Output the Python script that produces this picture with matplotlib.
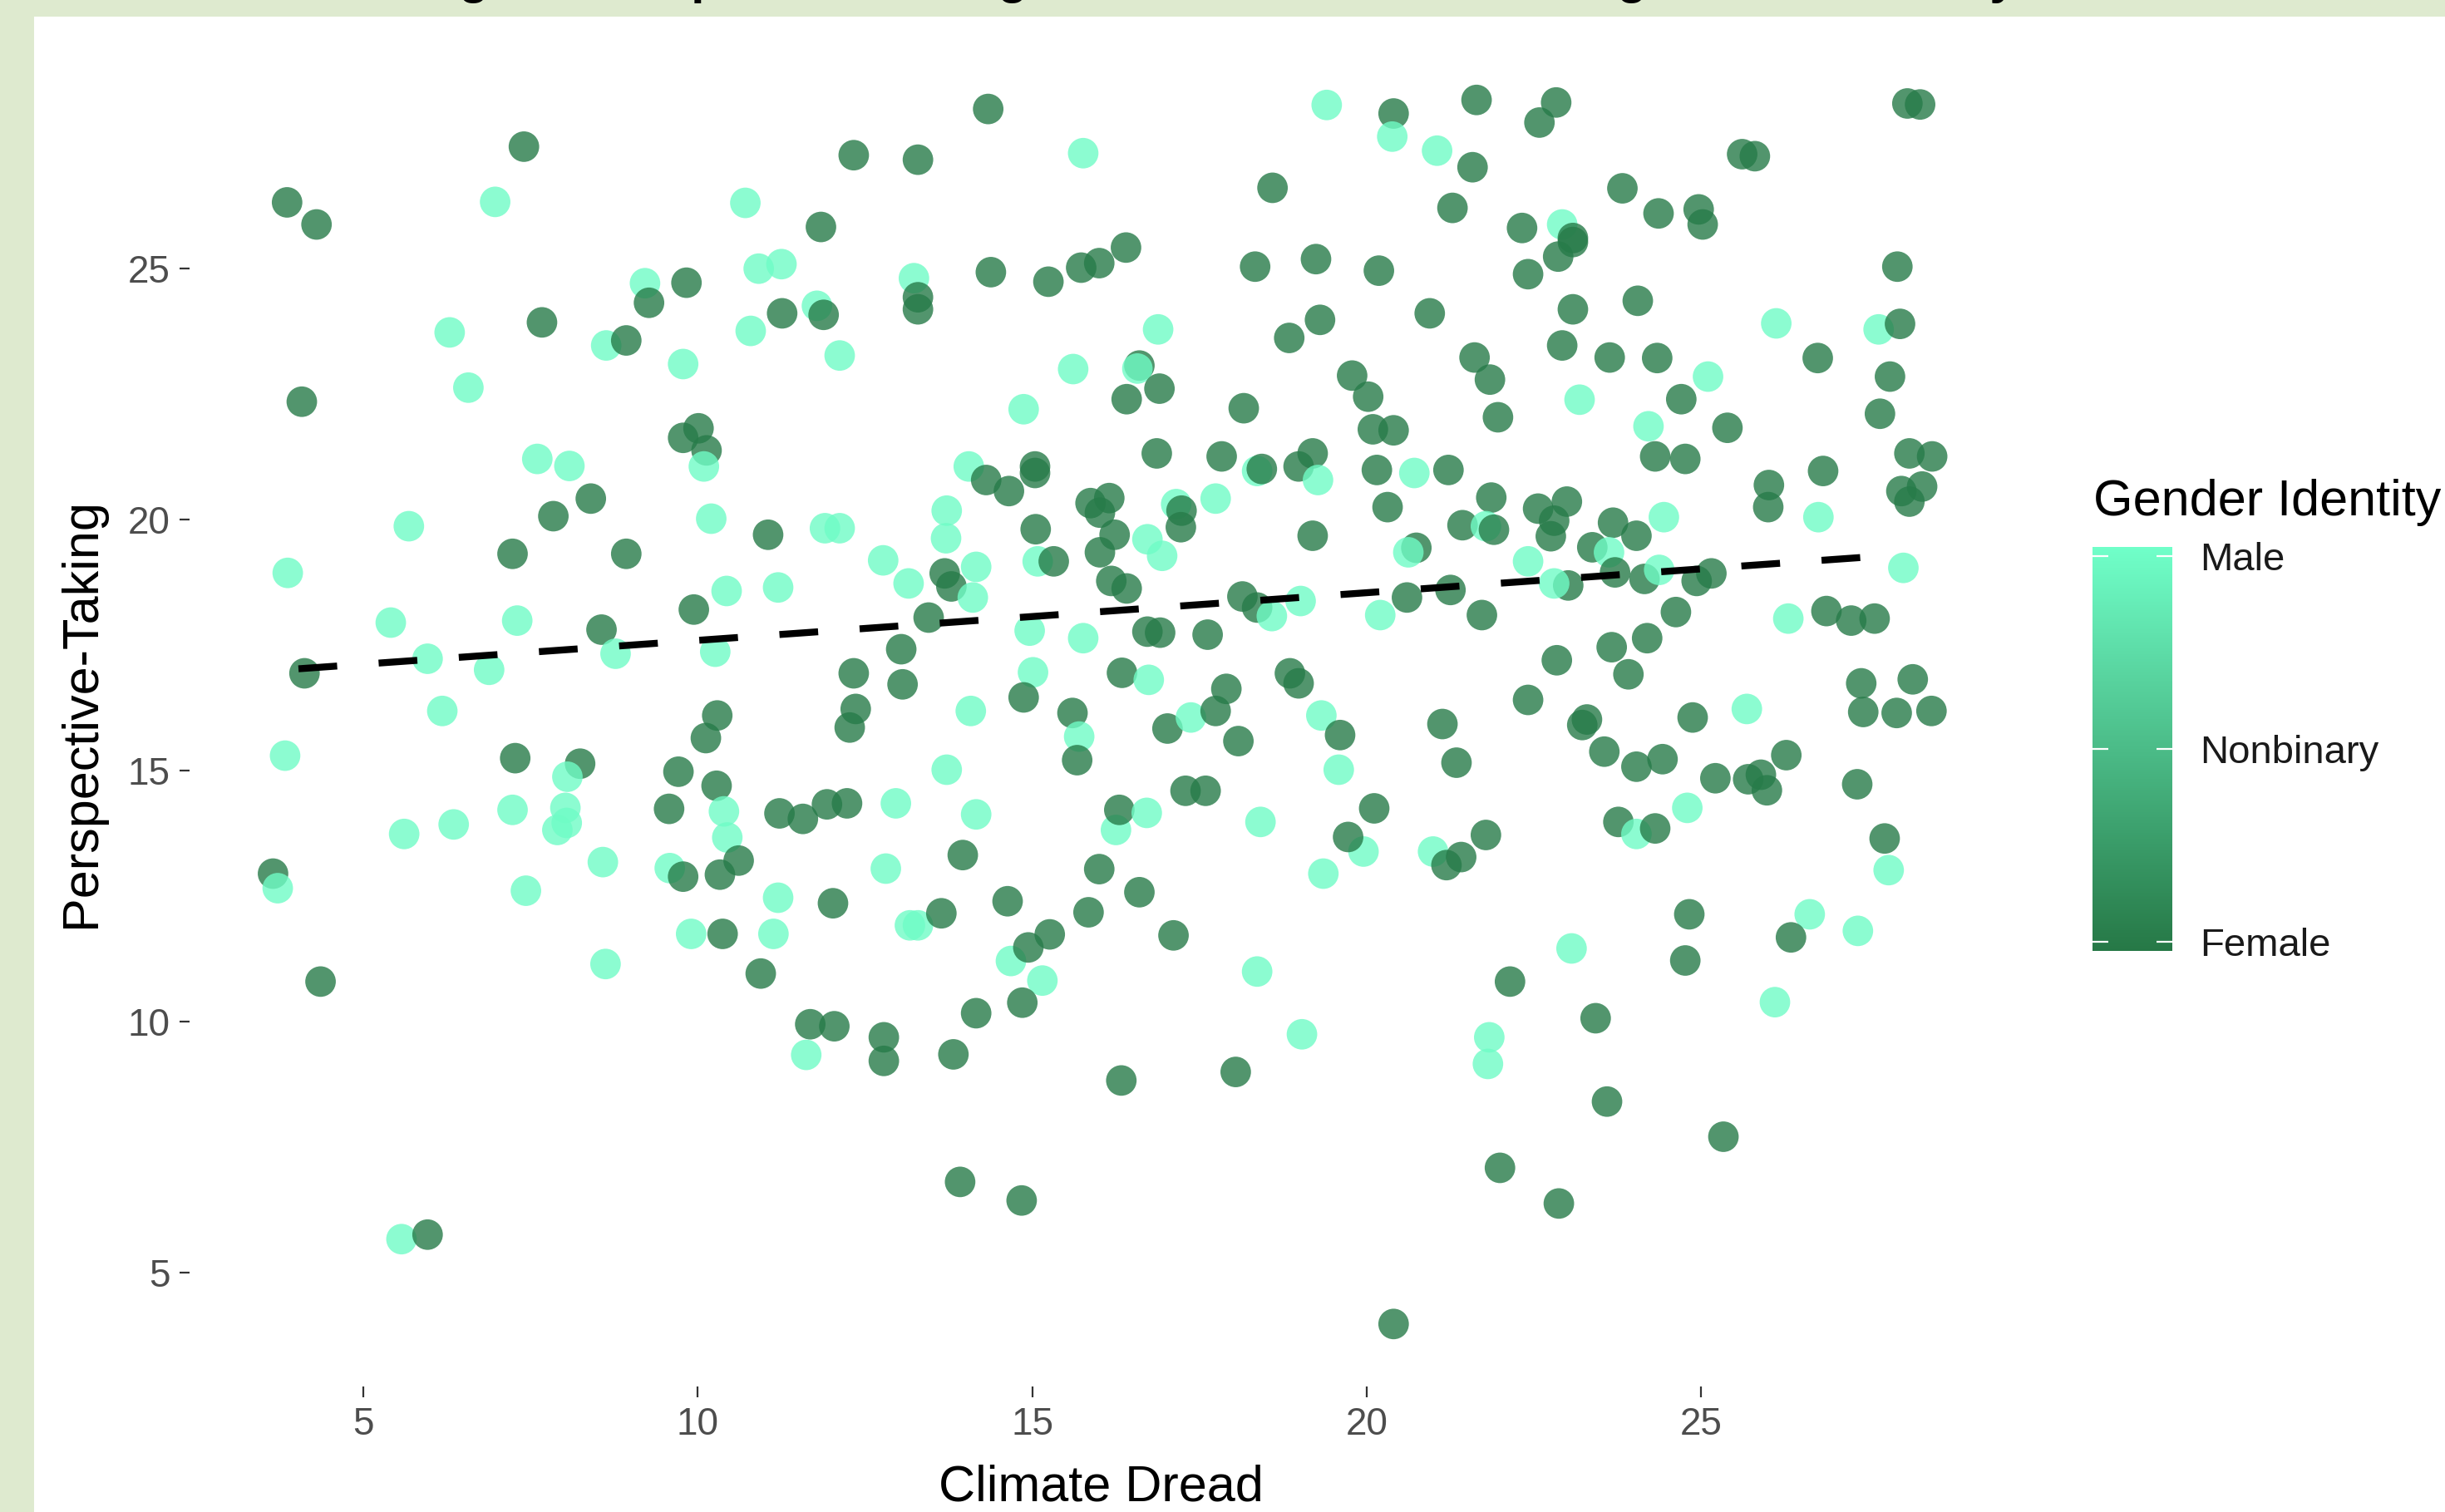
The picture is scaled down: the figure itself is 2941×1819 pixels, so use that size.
"""Perspective-Taking vs Climate Dread, coloured by gender identity."""

import matplotlib

matplotlib.use("Agg")
import matplotlib.pyplot as plt
from matplotlib.cm import ScalarMappable
from matplotlib.colors import LinearSegmentedColormap, Normalize
from matplotlib.patches import Rectangle

# --- data ---
climate_dread = [
    # upper left
    3.86, 4.30, 7.40, 6.97, 10.71, 10.91, 11.25, 9.21, 9.83, 9.27,
    11.26, 7.67, 6.29, 10.79, 8.63, 8.93, 9.78, 4.08, 6.57, 10.01,
    9.78, 10.13, 10.09, 7.60, 8.08, 8.40, 7.84, 5.68, 10.20, 11.05,
    7.23, 8.93, 3.87, 10.43, 11.20, 9.94, 5.41, 7.30, 8.56, 4.12,
    5.96, 6.88, 8.77, 10.26,
    # upper middle
    14.34, 12.33, 13.29, 15.76, 19.40, 20.40, 20.38, 21.05, 18.59, 11.84,
    14.38, 15.24, 15.73, 16.00, 16.40, 18.33, 19.24, 20.18, 13.23, 13.29,
    13.29, 11.78, 11.88, 12.12, 16.88, 15.61, 16.60, 16.57, 16.90, 16.41,
    18.84, 19.30, 20.94, 19.78, 20.02, 20.09, 20.40, 18.16, 14.87, 16.86,
    17.83, 18.36, 18.43, 18.98, 19.19, 19.27, 20.15, 20.71, 20.31, 19.19,
    20.74, 20.62, 17.74, 17.15, 17.23, 17.22, 14.05, 14.31, 14.65, 15.04,
    15.04, 15.87, 16.15, 16.01, 16.23, 16.01, 15.05, 15.08, 15.32, 16.72,
    16.94, 13.72, 13.71, 11.90, 12.12, 12.77, 13.15, 13.69, 13.79, 14.16,
    14.11, 13.45, 16.18, 16.41, 18.14, 18.36, 18.58, 19.01, 20.20, 20.60,
    13.04, 12.33, 13.06, 14.96, 15.76, 16.72, 16.91, 17.62, 15.01, 16.34,
    16.74, 18.85, 18.98, 17.90, 14.87,
    # upper right
    21.64, 22.83, 22.58, 21.58, 21.28, 23.82, 24.36, 24.96, 25.02, 25.61,
    25.80, 28.08, 28.27, 22.32, 22.92, 23.08, 23.08, 22.86, 22.41, 23.08,
    24.05, 27.93, 26.12, 27.65, 27.97, 21.61, 21.84, 22.92, 23.63, 24.34,
    26.74, 25.10, 24.70, 23.18, 21.96, 27.82, 27.67, 24.21, 25.39, 24.31,
    24.76, 21.22, 28.11, 28.45, 26.82, 26.01, 26.00, 26.75, 27.99, 28.30,
    28.11, 21.86, 21.43, 21.78, 21.90, 22.56, 22.99, 22.80, 22.75, 23.68,
    24.03, 23.37, 23.62, 24.44, 22.41, 21.25, 23.01, 22.80, 23.71, 24.15,
    24.37, 24.93, 25.15, 28.02, 21.72, 24.62, 26.30, 26.87, 27.24, 27.59,
    22.84, 23.66, 24.19, 23.91, 22.41, 27.39, 28.16,
    # lower left
    6.18, 10.29, 10.12, 3.83, 7.27, 8.24, 8.05, 9.71, 10.28, 7.23,
    6.35, 5.61, 8.02, 8.04, 7.90, 9.57, 10.39, 10.44, 11.22, 11.57,
    10.61, 10.33, 9.58, 9.78, 8.58, 3.65, 3.72, 7.43, 11.20, 9.90,
    10.37, 11.13, 10.94, 8.62, 4.36, 5.57, 5.96,
    # lower middle
    12.36, 12.27, 14.08, 15.60, 15.70, 15.67, 17.02, 17.37, 17.74, 18.08,
    19.32, 19.60, 19.58, 13.72, 11.93, 12.23, 12.96, 14.16, 13.96, 12.81,
    12.02, 13.17, 13.29, 13.64, 14.63, 15.26, 14.68, 14.94, 15.15, 14.85,
    14.16, 16.25, 16.30, 16.71, 16.00, 15.84, 16.60, 17.11, 17.29, 17.59,
    18.41, 20.11, 19.95, 19.72, 19.35, 20.99, 18.36, 19.03, 11.68, 12.04,
    11.62, 12.78, 12.78, 13.82, 16.33, 18.04, 13.92, 14.84, 20.40,
    # lower right
    21.13, 21.34, 23.29, 23.22, 23.55, 24.03, 24.42, 24.87, 25.68, 27.42,
    27.92, 28.44, 25.21, 25.70, 25.89, 25.98, 26.27, 27.33, 24.79, 23.76,
    24.03, 24.31, 21.78, 21.41, 21.19, 27.74, 27.80, 24.82, 26.62, 26.34,
    27.34, 23.06, 24.76, 22.14, 26.10, 23.42, 21.83, 21.81, 23.59, 25.33,
    21.99, 22.87,
]

perspective_taking = [
    # upper left
    26.31, 25.87, 27.42, 26.32, 26.30, 24.99, 25.08, 24.70, 24.71, 24.31,
    24.10, 23.92, 23.72, 23.75, 23.46, 23.56, 23.09, 22.34, 22.62, 21.81,
    21.62, 21.37, 21.05, 21.20, 21.06, 20.41, 20.06, 19.86, 20.01, 19.69,
    19.31, 19.31, 18.93, 18.57, 18.64, 18.20, 17.94, 17.98, 17.80, 16.93,
    17.22, 17.00, 17.32, 17.36,
    # upper middle
    28.17, 27.25, 27.16, 27.29, 28.25, 28.08, 27.62, 27.34, 26.60, 25.82,
    24.92, 24.73, 25.01, 25.10, 25.41, 25.03, 25.18, 24.95, 24.80, 24.42,
    24.18, 24.25, 24.07, 23.26, 23.78, 22.99, 23.06, 23.00, 22.60, 22.39,
    23.61, 23.97, 24.10, 22.86, 22.44, 21.79, 21.77, 22.21, 22.19, 21.31,
    21.25, 20.96, 21.00, 21.05, 21.31, 20.78, 20.98, 20.92, 20.24, 19.67,
    19.43, 19.34, 20.41, 20.30, 20.17, 19.84, 21.05, 20.78, 20.56, 21.05,
    20.92, 20.32, 20.42, 20.13, 19.69, 19.34, 19.80, 19.16, 19.16, 19.60,
    19.27, 20.17, 19.62, 19.82, 19.82, 19.18, 18.72, 18.92, 18.66, 19.05,
    18.44, 18.04, 18.77, 18.62, 18.46, 18.24, 18.07, 18.37, 18.09, 18.44,
    17.41, 16.93, 16.71, 17.78, 17.63, 17.76, 17.74, 17.70, 16.95, 16.94,
    16.80, 16.93, 16.73, 16.62, 16.45,
    # upper right
    28.35, 28.30, 27.90, 27.01, 26.20, 26.59, 26.09, 26.17, 25.87, 27.27,
    27.23, 28.28, 28.26, 25.80, 25.87, 25.60, 25.52, 25.23, 24.88, 24.18,
    24.35, 25.03, 23.90, 23.78, 23.89, 23.22, 22.78, 23.46, 23.22, 23.21,
    23.21, 22.84, 22.39, 22.38, 22.03, 22.84, 22.10, 21.85, 21.82, 21.25,
    21.20, 20.98, 21.31, 21.25, 20.96, 20.68, 20.24, 20.04, 20.56, 20.65,
    20.35, 20.43, 19.88, 19.86, 19.79, 20.21, 20.35, 19.97, 19.66, 19.93,
    19.67, 19.44, 19.34, 20.04, 19.16, 18.59, 18.68, 18.72, 18.94, 18.81,
    18.99, 18.77, 18.92, 19.03, 18.09, 18.15, 18.02, 18.17, 17.98, 18.02,
    17.19, 17.45, 17.63, 16.91, 16.40, 16.73, 16.81,
    # lower left
    16.18, 16.09, 15.64, 15.29, 15.24, 15.13, 14.87, 14.97, 14.69, 14.21,
    13.92, 13.73, 14.25, 13.95, 13.81, 14.23, 14.18, 13.66, 14.14, 14.03,
    13.20, 12.92, 13.05, 12.88, 13.17, 12.94, 12.65, 12.60, 12.46, 11.74,
    11.74, 11.74, 10.95, 11.14, 10.79, 5.66, 5.75,
    # lower middle
    16.22, 15.85, 16.18, 16.14, 15.67, 15.20, 15.83, 16.05, 16.18, 15.58,
    16.09, 15.70, 15.01, 15.01, 14.32, 14.34, 14.34, 14.12, 13.31, 13.04,
    12.35, 11.91, 11.91, 12.15, 12.39, 11.73, 11.20, 11.47, 10.81, 10.37,
    10.16, 13.81, 14.21, 14.15, 13.03, 12.17, 12.57, 11.71, 14.59, 14.59,
    13.97, 14.24, 13.38, 13.67, 12.94, 13.38, 10.99, 9.74, 9.94, 9.90,
    9.33, 9.68, 9.21, 9.34, 8.82, 8.99, 6.80, 6.43, 3.97,
    # lower right
    15.92, 15.15, 16.01, 15.90, 15.37, 15.07, 15.22, 16.05, 16.22, 16.16,
    16.14, 16.18, 14.84, 14.82, 14.91, 14.60, 15.30, 14.72, 14.25, 13.97,
    13.73, 13.84, 13.71, 13.27, 13.11, 13.64, 13.01, 12.13, 12.13, 11.67,
    11.80, 11.45, 11.21, 10.79, 10.38, 10.06, 9.68, 9.15, 8.40, 7.70,
    7.08, 6.37,
]

# F = Female, N = Nonbinary, M = Male (same order as above)
gender_codes = (
    "FFFMMMMMFF" "FFMMMFMFMF" "FFMMMFFMMF" "FFMMMFMMFF" "MMMM"
    "FFFMMFMMFF" "FFFFFFFFMF" "FMFMMMFMFF" "FFFFFFFFMF" "FMFFFMFMFF"
    "FMMMFFMFFF" "FFFFFFFMFM" "MMMMMMMFFM" "MFFFFFMMMF" "FFFMMFFFMF" "MFFFF"
    "FFFFFFFFFF" "FFFFMFFFFF" "FFMMFFFFFF" "FMFMFFFMFF" "FFFFFFFMFF"
    "FFFMFFFFFF" "FFMMMFFMFF" "MFFMFFMFFF" "FFFFFFF"
    "MFFMFFMFFM" "MMMMMFMMFF" "FFMFMFMMMM" "FMFMFMF"
    "FFMFMFFMFF" "MFMMFFMMFM" "FMMFFFMFMF" "FMFMFFFFFF" "MFMFMMMMFF" "MFFFFFFFF"
    "FFFFFFFFMF" "FFFFFFFFMF" "MFFFFFMFMF" "MMFFMFMMFF" "FF"
)

gender_levels = ["Female", "Nonbinary", "Male"]

# fitted line (geom_smooth lm) end points
fit_x = [4.03, 27.95]
fit_y = [17.02, 19.29]

assert len(climate_dread) == len(perspective_taking) == len(gender_codes)

code_value = {"F": 1, "N": 2, "M": 3}
gender_value = [code_value[c] for c in gender_codes]

# --- figure ---
W, H = 2941, 1819
plt.rcParams["font.family"] = ["Liberation Sans", "DejaVu Sans"]

fig = plt.figure(figsize=(W / 100, H / 100), dpi=100, facecolor="#DEEACF")
fig.add_artist(
    Rectangle((41 / W, 0), 1, 1 - 20 / H, transform=fig.transFigure,
              facecolor="white", edgecolor="none", zorder=-10)
)

# title, mostly cut off at the top of the image
fig.text(0.4815, 1.0042, "Change in Perspective-Taking and Climate Dread Among Gender Identity",
         ha="center", va="baseline", fontsize=42, fontweight="bold", color="black")

ax = fig.add_axes([228 / W, (H - 1668) / H, (2437 - 228) / W, (1668 - 50) / H])
ax.set_facecolor("white")

cmap = LinearSegmentedColormap.from_list("gender", ["#267846", "#70FFC9"])
norm = Normalize(vmin=0.9525, vmax=3.0475)

ax.scatter(climate_dread, perspective_taking, c=gender_value, cmap=cmap, norm=norm,
           s=700, alpha=0.8, edgecolors="none", zorder=2)
ax.plot(fit_x, fit_y, color="black", lw=6, dashes=(5.6, 6.0),
        dash_capstyle="butt", zorder=3)

ax.set_xlim(2.402, 29.853)
ax.set_ylim(2.725, 29.513)
ax.set_xticks([5, 10, 15, 20, 25])
ax.set_yticks([5, 10, 15, 20, 25])
for s in ax.spines.values():
    s.set_visible(False)
ax.tick_params(length=9, width=1.6, color="#333333", labelsize=33,
               labelcolor="#4D4D4D", pad=8)

fig.text(1324 / W, 14 / H, "Climate Dread", ha="center", va="baseline",
         fontsize=44, color="black")
fig.text(99 / W, (H - 858) / H, "Perspective-Taking", rotation=90,
         ha="center", va="center", fontsize=44, color="black")

# --- colour bar legend ---
fig.text(2518 / W, (H - 620) / H, "Gender Identity", ha="left", va="baseline",
         fontsize=44, color="black")
cax = fig.add_axes([2517 / W, (H - 1144) / H, 96 / W, 486 / H])
cb = fig.colorbar(ScalarMappable(norm=norm, cmap=cmap), cax=cax, ticks=[1, 2, 3])
cb.set_ticklabels(gender_levels)
cb.outline.set_visible(False)
cb.minorticks_off()
cax.tick_params(direction="in", length=14, width=1.6, color="white",
                left=True, right=True, labelsize=34, labelcolor="#1A1A1A", pad=24)

fig.savefig("out.png", dpi=100, facecolor=fig.get_facecolor())
